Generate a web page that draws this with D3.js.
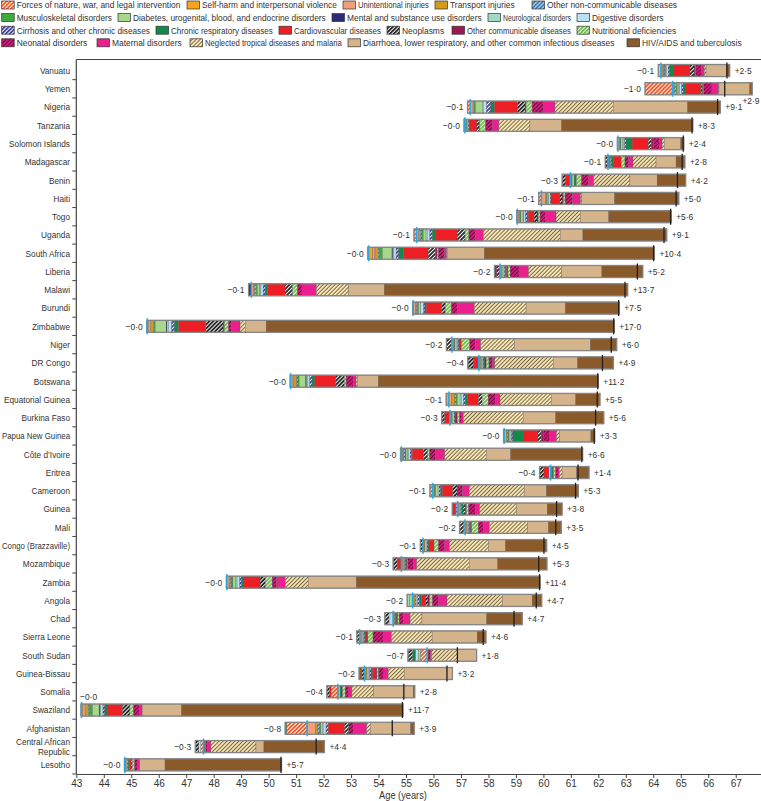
<!DOCTYPE html>
<html><head><meta charset="utf-8">
<script src="https://cdn.jsdelivr.net/npm/d3@7"></script>
<style>
body{margin:0;background:#fff}
text{font-family:'Liberation Sans',Arial,sans-serif;fill:#333}
</style>
</head><body>
<svg id="chart" width="761" height="801"></svg>
<script>
// ---------------- DATA ----------------
const countries = ["Vanuatu","Yemen","Nigeria","Tanzania","Solomon Islands","Madagascar","Benin","Haiti","Togo","Uganda",
  "South Africa","Liberia","Malawi","Burundi","Zimbabwe","Niger","DR Congo","Botswana","Equatorial Guinea","Burkina Faso",
  "Papua New Guinea","Côte d’Ivoire","Eritrea","Cameroon","Guinea","Mali","Congo (Brazzaville)","Mozambique","Zambia","Angola",
  "Chad","Sierra Leone","South Sudan","Guinea-Bissau","Somalia","Swaziland","Afghanistan","Central African Republic","Lesotho"];

// life expectancy at start (cyan marker)
const startAge = [64.28,64.70,57.34,57.14,62.71,62.35,60.98,59.93,59.05,55.39,
  53.64,58.42,49.37,55.26,45.58,56.67,57.65,50.80,56.56,56.60,
  58.57,54.83,60.26,55.97,56.88,57.15,55.62,54.83,48.48,55.24,
  54.53,53.31,55.77,53.49,52.52,43.19,51.40,47.63,44.77];

const causeNames = ["Forces of nature, war, and legal intervention","Self-harm and interpersonal violence","Unintentional injuries","Transport injuries","Other non-communicable diseases",
  "Musculoskeletal disorders","Diabetes, urogenital, blood, and endocrine disorders","Mental and substance use disorders","Neurological disorders","Digestive disorders",
  "Cirrhosis and other chronic diseases","Chronic respiratory diseases","Cardiovascular diseases","Neoplasms","Other communicable diseases","Nutritional deficiencies",
  "Neonatal disorders","Maternal disorders","Neglected tropical diseases and malaria","Diarrhoea, lower respiratory, and other common infectious diseases","HIV/AIDS and tuberculosis"];

// contribution (years) of each cause, per country (same order as countries)
const forcesOfNature = [0,-1.0,-.1,0,-.02,0,0,-.1,-.02,-.1, -.03,0,0,-.02,-.02,0,0,-.02,0,0, -.02,-.03,0,-.1,0,-.07,0,0,-.02,0, 0,0,-.25,0,-.25,-.02,-.75,-.1,-.02];
const selfHarm = [0,0,0,0,0,0,0,0,0,0, .15,0,0,0,.05,0,0,.06,-.1,0, 0,0,0,0,0,0,0,0,0,0, 0,0,0,0,0,.05,0,0,0];
const unintentional = [.06,.04,.10,.03,.05,.03,.04,.14,.06,.08, .08,.05,.07,.08,.08,.05,.04,.06,.10,.04, .08,.05,.03,.05,.04,.03,.04,.04,.08,.05, .03,.04,0,.05,.04,.08,.32,.03,.03];
const transport = [.04,.03,.04,.02,.03,.02,.02,.04,.04,.05, .12,.03,.05,.04,.10,.03,.03,.10,.12,.03, .03,.04,.02,.03,.03,.03,.03,.03,.05,.04, .03,.03,0,.04,0,.12,.06,0,.03];
const otherNCD = [.04,.07,0,-.03,0,0,0,0,0,.06, .05,0,.06,.04,.03,0,0,.05,.05,0, .04,.05,0,0,-.07,0,0,0,.05,.04, 0,0,0,0,0,.05,.08,0,0];
const musculoskeletal = [.03,.03,.05,.02,.03,.02,0,.03,.03,.05, .10,0,.04,.04,.03,.03,0,.04,.04,0, .03,.03,0,.03,0,0,0,0,.04,0, 0,0,0,0,0,.10,.04,0,0];
const diabetes = [-.1,.05,.25,.03,.06,0,.04,.06,.08,.10, .35,.04,.09,.08,.40,.05,.04,.24,.10,.04, .04,.06,0,.06,0,.03,.05,.03,.10,-.12, 0,.04,-.08,.05,0,.24,.05,0,0];
const mental = [0,0,0,0,0,0,0,0,0,0, .03,0,-.1,0,.03,0,0,.03,0,0, 0,0,0,0,0,0,0,0,0,0, 0,0,0,0,0,.03,0,0,0];
const neurological = [.03,.04,.03,0,.03,0,0,0,.03,.04, .04,0,.04,0,.05,0,0,.04,.04,0, 0,.03,0,0,0,0,0,0,.05,-.08, 0,0,0,0,0,.03,.04,0,0];
const digestive = [.06,.08,.12,.03,.05,.03,.04,.05,.06,.10, .08,.04,.08,.10,.12,.05,.04,.08,.08,.04, .05,.06,-.06,.06,.04,.04,.03,.03,.10,.06, -.15,.04,-.10,.05,.04,.08,.10,-.07,.03];
const cirrhosis = [.06,.05,.16,.03,.05,.04,0,.03,.06,.09, .10,.04,.08,.05,.10,.04,.03,.08,.07,.03, .05,.05,0,.06,.04,.03,.03,.03,.07,.06, .03,.04,0,.05,0,.07,.08,0,.03];
const chronicRespiratory = [.15,.07,.13,.03,.22,.05,.04,.03,.04,.10, .16,.04,.08,.05,.15,.04,.04,.10,.07,.04, .40,.03,.03,.06,.05,.04,.03,.03,.08,.07, .04,.04,-.10,.05,.04,.08,-.05,.02,.05];
const cardiovascular = [.58,.57,.83,.25,.59,.29,-.18,.29,.22,.80, .91,.05,.64,.56,.99,.06,-.2,.76,.41,-.2, .51,.40,-.18,.38,-.13,0,.19,-.15,.59,.16, 0,.04,0,.10,-.05,.56,.59,0,.06];
const neoplasms = [.16,.04,.29,.08,.11,-.10,-.12,.08,.10,.29, .27,-.12,.27,.13,.64,-.2,-.2,.32,.13,-.1, .13,.16,-.16,.16,.08,-.13,-.1,-.15,.19,.08, -.15,-.1,-.17,-.1,-.1,.27,.16,-.13,.04];
const otherCommunicable = [.03,.03,.03,.02,.08,0,.04,.05,.04,0, .05,-.08,0,0,.04,0,.05,0,0,.05, .08,0,.03,0,.04,.04,0,.02,0,.06, .04,.03,.06,.06,.05,0,0,0,0];
const nutritional = [.02,.03,.22,.22,0,.14,.19,.06,.07,.14, .05,.08,.18,.22,.15,.30,.10,.06,.22,.08, 0,.07,.08,0,.08,.24,.16,.03,.25,.10, .05,.19,0,.06,.10,.13,0,.03,.08];
const neonatal = [.20,.30,.40,.24,.20,.13,.24,.27,.20,.24, .22,.32,.16,.22,.10,.21,.12,.26,.27,.08, .22,.20,.08,.20,.24,.19,.21,.20,.16,.21, .16,.37,.05,.19,.10,.21,.16,.07,.10];
const maternal = [.12,.24,.43,.24,.11,.16,.20,.29,.38,.29, .08,.35,.53,.62,.32,.19,.09,.10,.16,.06, .25,.35,.05,.24,.16,.22,.19,.12,.32,.32, .24,.30,.05,.16,.14,.11,.49,.12,.09];
const ntdMalaria = [.06,.02,2.12,1.13,.08,.84,1.32,.05,.88,2.79, .02,1.21,1.18,1.88,.19,1.23,2.13,.06,1.87,2.18, .11,1.51,.10,2.01,1.35,1.39,1.43,1.91,.83,2.02, .43,1.48,.95,.59,.80,0,.14,1.64,0];
const diarrhoeaLRI = [.74,1.12,2.71,1.15,.60,.73,.99,1.19,1.04,.83, 1.35,1.46,1.29,1.43,.76,2.76,.88,.75,.89,1.18, 1.14,.89,.53,.80,1.11,.75,.61,1.04,1.75,1.08, 2.36,1.64,.69,1.75,1.43,1.43,1.46,.29,.92];
const hivTB = [.12,.09,1.19,4.78,.11,.32,1.04,2.34,2.27,3.05, 6.19,1.49,8.86,1.96,12.67,.96,1.31,8.01,.88,1.75, .14,2.62,.45,1.16,.54,.47,1.50,1.79,6.69,.35, 1.29,.32,0,-.1,.06,8.06,.13,2.20,4.24];

const xTicks = d3.range(43, 68);
const xTitle = "Age (years)";

// ---------------- STYLE / LAYOUT ----------------
const causeValues = [forcesOfNature,selfHarm,unintentional,transport,otherNCD,musculoskeletal,diabetes,mental,neurological,digestive,
  cirrhosis,chronicRespiratory,cardiovascular,neoplasms,otherCommunicable,nutritional,neonatal,maternal,ntdMalaria,diarrhoeaLRI,hivTB];
const causeFills = ["url(#h-forces)","#f8a51c","#f29e7c","#d29b1e","url(#h-oncd)",
  "#3daa3c","#a7d78b","#2b2c74","#a3d9c3","#b9e1f3",
  "url(#h-cirr)","#12894a","#ed1f24","url(#h-neo)","#9b1b50","url(#h-nutr)",
  "url(#h-neon)","#ec1f8e","url(#h-ntd)","#d5b38b","#8b5a2b"];
const legendRows = [[0,1,2,3,4],[5,6,7,8,9],[10,11,12,13,14,15],[16,17,18,19,20]];
const legendSwatchX = [[1.7,187,343,435,532],[1.7,118,332,488,577],[1.7,156,279,387,452,577],[1.7,97,190,348,627]];

const svg = d3.select('#chart');
const W = 761;
const x = d3.scaleLinear().domain([43, 67.92]).range([76.3, 761]);
const y = d3.scaleBand().domain(countries).range([61.4, 774]).paddingInner(0.34).paddingOuter(0.17);
const bw = y.bandwidth();

// horizontally condensed text placed with a transform; returns its width
function ctext(parent, str, px, py, size, f, anchor, fill, maxW){
  const t = parent.append('text').attr('x', 0).attr('y', 0).attr('dy', '0.35em')
    .attr('font-size', size).attr('text-anchor', anchor || 'start').attr('fill', fill || '#333').text(str);
  const L = t.node().getComputedTextLength();
  if (maxW) f = Math.min(f, maxW / L);
  t.attr('transform', `translate(${px},${py}) scale(${f},1)`);
  return L * f;
}

const defs = svg.append('defs');
function hatch(id, bg, fg, w){
  const p = defs.append('pattern').attr('id', id).attr('patternUnits','userSpaceOnUse')
    .attr('width',2.8).attr('height',2.8).attr('patternTransform','rotate(45)');
  p.append('rect').attr('width',2.8).attr('height',2.8).attr('fill',bg);
  p.append('line').attr('x1',1.4).attr('y1',0).attr('x2',1.4).attr('y2',2.8).attr('stroke',fg).attr('stroke-width',w);
}
hatch('h-forces','#f15a29','#fff',1.0);
hatch('h-oncd','#8fc0e2','#2d4f86',0.9);
hatch('h-cirr','#3f3f9c','#fff',1.0);
hatch('h-neo','#222','#fff',1.0);
hatch('h-nutr','#77bd55','#e6f4dc',1.0);
hatch('h-neon','#d81b7f','#5e0b35',1.0);
hatch('h-ntd','#f6e6b6','#5d4a28',0.8);

const fmt = v => v.toFixed(1).replace('.', '·');

// legend
legendRows.forEach((row, r) => {
  const cy = 5 + r * 12.6;
  row.forEach((k, j) => {
    const lx = legendSwatchX[r][j];
    const nextX = j < row.length - 1 ? legendSwatchX[r][j + 1] : W;
    svg.append('rect').attr('x', lx).attr('y', cy - 4).attr('width', 12.5).attr('height', 8)
      .attr('fill', causeFills[k]).attr('stroke', '#333').attr('stroke-width', 0.7);
    ctext(svg, causeNames[k], lx + 15, cy, 9.8, 0.86, 'start', '#333', nextX - lx - 15 - 6);
  });
});

// frame
svg.append('line').attr('x1', 76.3).attr('x2', W).attr('y1', 59.5).attr('y2', 59.5).attr('stroke', '#444').attr('stroke-width', 1.2);
svg.append('line').attr('x1', 76.3).attr('x2', 76.3).attr('y1', 59.5).attr('y2', 774).attr('stroke', '#444').attr('stroke-width', 1.2);

// y ticks between rows
const step = y.step();
countries.forEach(c => {
  const yb = y(c) + bw + step * 0.17;
  svg.append('line').attr('x1', 72.3).attr('x2', 76.3).attr('y1', yb).attr('y2', yb).attr('stroke', '#444').attr('stroke-width', 1);
});

// country labels
countries.forEach(c => {
  const cy = y(c) + bw / 2;
  if (c === "Central African Republic") {
    ctext(svg, 'Central African', 70, cy - 5, 9.7, 0.85, 'end', '#222', 68);
    ctext(svg, 'Republic', 70, cy + 5, 9.7, 0.85, 'end', '#222', 68);
  } else {
    ctext(svg, c, 70, cy, 9.7, 0.85, 'end', '#222', 68);
  }
});

// bars
const gBars = svg.append('g');
countries.forEach((c, i) => {
  const s = startAge[i];
  let negCur = s, posCur = s, negSum = 0, posSum = 0;
  const segs = [];
  causeValues.forEach((vals, k) => {
    const v = vals[i];
    if (v < 0) { segs.push({k, a: negCur + v, b: negCur}); negCur += v; negSum -= v; }
    else if (v > 0) { segs.push({k, a: posCur, b: posCur + v}); posCur += v; posSum += v; }
  });
  const y0 = y(c), cy = y0 + bw / 2;
  const g = gBars.append('g');
  g.selectAll('rect.seg').data(segs).join('rect').attr('class', 'seg')
    .attr('x', d => x(d.a)).attr('width', d => Math.max(0, x(d.b) - x(d.a)))
    .attr('y', y0).attr('height', bw)
    .attr('fill', d => causeFills[d.k]).attr('stroke', '#555').attr('stroke-width', 0.3);
  const left = s - negSum, right = s + posSum, fin = s + posSum - negSum;
  g.append('rect').attr('x', x(left)).attr('y', y0).attr('width', x(right) - x(left)).attr('height', bw)
    .attr('fill', 'none').attr('stroke', '#858585').attr('stroke-width', 1.3);
  g.append('line').attr('x1', x(s)).attr('x2', x(s)).attr('y1', y0 - 2).attr('y2', y0 + bw + 2)
    .attr('stroke', '#27aae1').attr('stroke-width', 1.5);
  g.append('line').attr('x1', x(fin)).attr('x2', x(fin)).attr('y1', y0 - 2).attr('y2', y0 + bw + 2)
    .attr('stroke', '#1e1e1e').attr('stroke-width', 1.3);

  // labels
  const negTxt = '−' + fmt(negSum), posTxt = '+' + fmt(posSum);
  const estW = 15;
  if (x(left) - 4 - estW < 76.3) {
    ctext(g, negTxt, x(left) - 1, y0 - 7, 9.7, 0.87, 'start', '#444');
  } else {
    ctext(g, negTxt, x(left) - 4, cy, 9.7, 0.87, 'end', '#444');
  }
  if (x(right) + 5 + estW > W) {
    ctext(g, posTxt, W - 1.5, cy + 12, 9.7, 0.87, 'end', '#444');
  } else {
    ctext(g, posTxt, x(right) + 5, cy, 9.7, 0.87, 'start', '#444');
  }
});

// x axis
const ax = svg.append('g').attr('transform', 'translate(0,774)')
  .call(d3.axisBottom(x).tickValues(xTicks).tickFormat(d3.format('d')).tickSize(4).tickPadding(2).tickSizeOuter(0));
ax.select('.domain').attr('stroke', '#444').attr('stroke-width', 1.2);
ax.selectAll('.tick line').attr('stroke', '#444');
ax.selectAll('.tick text').attr('font-size', 10).attr('fill', '#333')
  .style('font-family', "'Liberation Sans',Arial,sans-serif");
ctext(svg, xTitle, 403, 795.5, 10.3, 0.9, 'middle', '#333');
</script>
</body></html>
